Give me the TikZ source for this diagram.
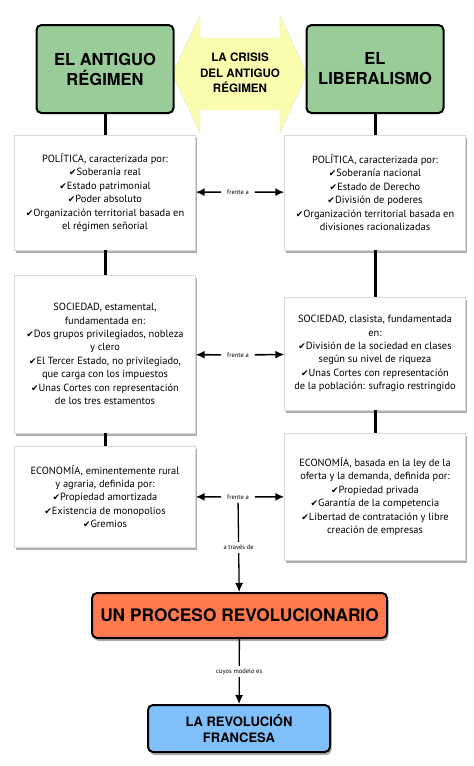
\documentclass[tikz,border=0pt]{standalone}
\usepackage{fontspec}
\setmainfont{PT Sans}
\newfontfamily\titulo{TeX Gyre Heros}
\newfontfamily\simbolo{DejaVu Sans}
\usepackage{tikz}
\usetikzlibrary{arrows.meta}
\usetikzlibrary{shadows}
\definecolor{verde}{HTML}{99CC99}
\definecolor{naranja}{HTML}{FF7A4C}
\definecolor{celeste}{HTML}{80C0FA}
\definecolor{amarillo}{HTML}{FBFDAE}
\newcommand{\ok}{{\simbolo\fontsize{9}{13}\selectfont ✔}}

\tikzset{
  sombra/.style={drop shadow={shadow xshift=1.5pt, shadow yshift=-3pt, opacity=0.45, fill=black!70}},
  cabecera/.style={draw, line width=2pt, rounded corners=5pt, fill=verde, align=center,
    minimum width=137pt, minimum height=88pt, font=\titulo\bfseries\fontsize{16.5}{20}\selectfont},
  hecho/.style={fill=white, draw=black!15, sombra, align=center, minimum width=181pt,
    font=\fontsize{10.4}{13.4}\selectfont,
    path picture={\draw[black!85, line width=0.9pt] (path picture bounding box.north west) -- (path picture bounding box.north east);}},
  etiqueta/.style={font=\fontsize{6.5}{8}\selectfont, inner xsep=6pt, inner ysep=3pt},
  tronco/.style={line width=3pt},
  flecha/.style={line width=1.6pt, -{Latex[length=9pt,width=8pt]}},
}

\begin{document}
\begin{tikzpicture}[x=1pt,y=-1pt]
\useasboundingbox (0,0) rectangle (474,766);

\fill[amarillo, draw=black!12] (172,74) -- (200,15) -- (200,38) -- (280,38) -- (280,15) -- (307,74)
  -- (280,133) -- (280,110) -- (200,110) -- (200,133) -- cycle;
\node[font=\titulo\bfseries\fontsize{11.6}{15.5}\selectfont, align=center] (crisis) at (240,73) {LA CRISIS\\DEL ANTIGUO\\RÉGIMEN};

\node[cabecera] (antiguo) at (105,69) {EL ANTIGUO\\RÉGIMEN};
\node[cabecera] (liberal) at (375,69) {EL\\LIBERALISMO};

\node[hecho, minimum height=115pt] (pol1) at (105,192.5) {POLÍTICA, caracterizada por:\\\ok Soberanía real\\\ok Estado patrimonial\\\ok Poder absoluto\\\ok Organización territorial basada en\\el régimen señorial};
\node[hecho, minimum height=115pt] (pol2) at (375,192.5) {POLÍTICA, caracterizada por:\\\ok Soberanía nacional\\\ok Estado de Derecho\\\ok División de poderes\\\ok Organización territorial basada en\\divisiones racionalizadas};

\node[hecho, minimum height=158pt] (soc1) at (105,354) {SOCIEDAD, estamental,\\fundamentada en:\\\ok Dos grupos privilegiados, nobleza\\y clero\\\ok El Tercer Estado, no privilegiado,\\que carga con los impuestos\\\ok Unas Cortes con representación\\de los tres estamentos};
\node[hecho, minimum height=113pt] (soc2) at (375,353.5) {SOCIEDAD, clasista, fundamentada\\en:\\\ok División de la sociedad en clases\\según su nivel de riqueza\\\ok Unas Cortes con representación\\de la población: sufragio restringido};

\node[hecho, minimum height=101pt] (eco1) at (105,496.5) {ECONOMÍA, eminentemente rural\\y agraria, definida por:\\\ok Propiedad amortizada\\\ok Existencia de monopolios\\\ok Gremios};
\node[hecho, minimum height=127pt] (eco2) at (375,496.5) {ECONOMÍA, basada en la ley de la\\oferta y la demanda, definida por:\\\ok Propiedad privada\\\ok Garantía de la competencia\\\ok Libertad de contratación y libre\\creación de empresas};

\node[draw, line width=2pt, rounded corners=5pt, fill=naranja, sombra, minimum width=295pt, minimum height=45pt,
  font=\titulo\bfseries\fontsize{17.3}{20}\selectfont] (proceso) at (239.5,615.5) {UN PROCESO REVOLUCIONARIO};
\node[draw, line width=2pt, rounded corners=5pt, fill=celeste, sombra, minimum width=182pt, minimum height=47pt,
  align=center, font=\titulo\bfseries\fontsize{13}{16}\selectfont] (francesa) at (239,728.5) {LA REVOLUCIÓN\\FRANCESA};

\node[etiqueta] (f1) at (238,192) {frente a};
\node[etiqueta] (f2) at (238,355) {frente a};
\node[etiqueta] (f3) at (238,497) {frente a};

\draw[tronco] (antiguo) -- (pol1);
\draw[tronco] (pol1) -- (soc1);
\draw[tronco] (soc1) -- (eco1);
\draw[tronco] (liberal) -- (pol2);
\draw[tronco] (pol2) -- (soc2);
\draw[tronco] (soc2) -- (eco2);

\draw[flecha] (f1) -- (pol1);
\draw[flecha] (f1) -- (pol2);
\draw[flecha] (f2) -- (soc1);
\draw[flecha] (f2) -- (soc2);
\draw[flecha] (f3) -- (eco1);
\draw[flecha] (f3) -- (eco2);

\draw[flecha, line width=1.3pt] (f3) -- (proceso) node[midway, etiqueta, fill=white] {a través de};
\draw[flecha, line width=1.3pt] (proceso) -- (francesa) node[midway, etiqueta, fill=white] {cuyos modelo es};
\end{tikzpicture}
\end{document}
